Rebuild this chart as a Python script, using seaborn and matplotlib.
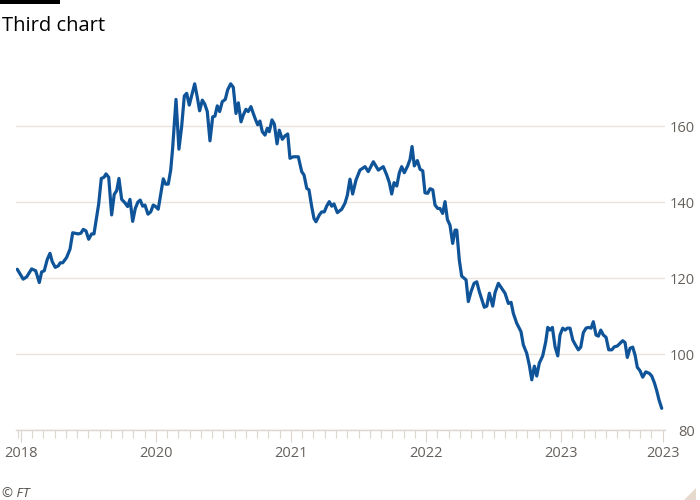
import matplotlib
matplotlib.use("Agg")
import matplotlib.pyplot as plt
import seaborn as sns
import pandas as pd
from matplotlib.patches import Rectangle, Polygon

# ---- data (x in months from the first labelled tick, y index value) ----
months = [-0.33, 0.20, 0.51, 0.95, 1.31, 1.63, 1.84, 2.07, 2.34, 2.58, 2.78, 3.05, 3.32, 3.49, 3.71,
          4.06, 4.36, 4.60, 5.09, 5.33, 5.54, 5.78, 6.02, 6.28, 6.49, 6.73, 6.91, 7.14, 7.38, 7.56,
          7.80, 8.06, 8.29, 8.51, 8.71, 8.95, 9.24, 9.48, 9.69, 9.93, 10.16, 10.40, 10.60, 10.82, 11.02,
          11.29, 11.53, 11.76, 11.97, 12.20, 12.42, 12.65, 12.86, 13.09, 13.31, 13.48, 13.78, 14.04, 14.28, 14.52,
          14.73, 14.96, 15.17, 15.44, 15.67, 15.88, 16.12, 16.33, 16.56, 16.80, 17.04, 17.24, 17.45, 17.66, 17.89,
          18.16, 18.37, 18.64, 18.87, 19.11, 19.32, 19.56, 19.76, 20.00, 20.20, 20.44, 20.65, 20.86, 21.04, 21.24,
          21.45, 21.69, 21.89, 22.07, 22.31, 22.52, 22.76, 22.96, 23.23, 23.47, 23.71, 23.91, 24.20, 24.65, 24.95,
          25.16, 25.40, 25.60, 25.84, 26.04, 26.22, 26.52, 26.73, 26.96, 27.17, 27.40, 27.62, 27.82, 28.12, 28.51,
          28.80, 29.01, 29.24, 29.48, 29.78, 30.13, 30.58, 30.87, 31.32, 31.76, 32.20, 32.51, 32.74, 32.95, 33.16,
          33.40, 33.63, 33.84, 34.07, 34.37, 34.58, 34.76, 34.96, 35.23, 35.47, 35.71, 35.91, 36.15, 36.36, 36.60,
          36.80, 37.04, 37.24, 37.48, 37.69, 37.90, 38.13, 38.37, 38.58, 38.73, 38.96, 39.17, 39.56, 39.76, 40.00,
          40.27, 40.51, 40.74, 40.98, 41.18, 41.40, 41.63, 41.93, 42.13, 42.43, 42.73, 43.02, 43.32, 43.56, 43.76,
          44.06, 44.44, 44.65, 44.95, 45.18, 45.40, 45.63, 45.84, 46.07, 46.37, 46.64, 46.82, 47.02, 47.23, 47.47,
          47.71, 47.91, 48.15, 48.36, 48.56, 48.80, 49.04, 49.24, 49.54, 49.75, 49.98, 50.22, 50.43, 50.67, 50.87,
          51.11, 51.32, 51.53, 51.76, 52.00, 52.24, 52.51, 52.74, 53.00, 53.24, 53.48, 53.69, 53.89, 54.13, 54.37,
          54.58, 54.78, 55.02, 55.26, 55.53, 55.85, 56.06, 56.30, 56.51, 56.71, 56.95]
values = [122.3, 119.7, 120.3, 122.4, 121.9, 118.8, 121.6, 121.9, 124.9, 126.5, 124.3, 122.8, 123.2, 124.0, 124.0,
          125.4, 127.6, 131.9, 131.6, 131.8, 132.8, 132.4, 130.2, 131.6, 131.6, 136.1, 139.5, 146.2, 146.5, 147.4,
          146.5, 136.6, 142.0, 143.0, 146.2, 140.7, 139.8, 138.8, 140.7, 134.9, 138.3, 140.0, 140.5, 138.9, 139.2,
          136.8, 137.4, 139.2, 138.8, 138.1, 142.1, 146.1, 144.7, 144.7, 148.4, 154.1, 167.0, 153.9, 159.8, 167.9,
          168.6, 165.5, 167.9, 171.1, 167.6, 164.0, 166.8, 165.8, 163.8, 156.1, 162.4, 162.6, 165.3, 163.8, 166.4,
          167.0, 169.5, 171.1, 170.2, 163.3, 166.1, 161.1, 162.9, 164.4, 163.8, 165.1, 163.3, 161.6, 160.3, 161.3,
          158.5, 157.6, 159.4, 158.5, 161.6, 160.5, 155.3, 158.9, 156.5, 157.4, 157.9, 151.5, 151.9, 151.9, 148.0,
          147.1, 143.6, 143.2, 138.8, 135.7, 134.8, 136.6, 137.4, 137.4, 138.9, 140.1, 138.9, 139.5, 137.2, 138.1,
          139.7, 141.8, 146.0, 142.1, 145.8, 148.4, 149.3, 148.0, 150.6, 148.4, 149.3, 147.1, 145.1, 142.1, 145.1,
          144.2, 147.7, 149.3, 147.7, 149.5, 151.2, 154.6, 149.5, 150.9, 148.6, 148.2, 142.4, 142.3, 143.5, 143.2,
          139.2, 138.3, 138.3, 137.0, 140.1, 135.4, 133.9, 129.1, 132.6, 132.6, 124.7, 120.5, 119.5, 113.8, 116.4,
          118.6, 119.0, 116.4, 114.2, 112.3, 112.6, 116.0, 112.6, 116.1, 118.6, 117.3, 116.0, 113.3, 113.6, 110.7,
          108.1, 105.9, 102.4, 100.2, 97.1, 93.2, 96.8, 94.2, 97.6, 99.5, 103.2, 107.0, 106.3, 107.0, 101.9,
          99.5, 105.0, 106.8, 106.3, 106.8, 106.8, 103.7, 102.6, 101.1, 101.8, 105.6, 106.8, 107.0, 106.8, 108.5,
          105.0, 104.7, 106.3, 105.0, 104.4, 101.1, 101.1, 101.9, 102.1, 102.8, 103.5, 103.0, 99.1, 101.5, 101.8,
          99.7, 96.5, 95.6, 93.9, 95.3, 94.9, 94.2, 92.4, 90.3, 87.9, 85.7]

x_tick_pos = [0, 12, 24, 36, 48, 57.07]
x_tick_labels = ["2018", "2020", "2021", "2022", "2023", "2023"]
y_ticks = [80, 100, 120, 140, 160]

# ---- style ----
sns.set_style("white")
plt.rcParams['font.family'] = ['Open Sans', 'DejaVu Sans']

LINE = "#0f5499"
GRID = "#ebe5df"
AXC = "#ddd6cf"
TXT = "#66605c"

fig = plt.figure(figsize=(7, 5), dpi=100)
ax = fig.add_axes([16 / 700, 1 - 430 / 500, (665 - 16) / 700, (430 - 57.6) / 500])

df = pd.DataFrame({"month": months, "value": values})
sns.lineplot(data=df, x="month", y="value", ax=ax, color=LINE, linewidth=2.3,
             estimator=None, sort=False)

ax.set_xlim(-0.44, 57.24)
ax.set_ylim(80, 178)
ax.set_xlabel("")
ax.set_ylabel("")

for s in ["top", "right", "left"]:
    ax.spines[s].set_visible(False)
ax.spines["bottom"].set_color(AXC)
ax.spines["bottom"].set_linewidth(1.0)
ax.spines["bottom"].set_zorder(3)

# y axis on the right
ax.yaxis.tick_right()
ax.set_yticks(y_ticks)
ax.set_yticklabels([str(v) for v in y_ticks])
ax.tick_params(axis="y", length=0, pad=21.6, labelsize=10.5, labelcolor=TXT)
plt.setp(ax.get_yticklabels(), ha="right")
ax.yaxis.grid(True, color=GRID, linewidth=1.0)
ax.xaxis.grid(False)

# x axis ticks
ax.set_xticks(x_tick_pos)
ax.set_xticklabels(x_tick_labels)
minor = [-0.24] + [m for m in range(1, 57) if m % 12 != 0]
ax.set_xticks(minor, minor=True)
ax.tick_params(axis="x", which="major", length=8.6, width=0.8, color=AXC,
               labelsize=10.5, labelcolor=TXT, pad=3, bottom=True)
ax.tick_params(axis="x", which="minor", length=5.8, width=0.8, color=AXC, bottom=True)

# decorations
fig.add_artist(Rectangle((0, 1 - 4 / 500), 60 / 700, 4 / 500, transform=fig.transFigure,
                         color="black", lw=0))
fig.text(2 / 700, 1 - 31 / 500, "Third chart", fontsize=14.5, color="#000000",
         ha="left", va="baseline")
fig.text(2 / 700, 1 - 497 / 500, "© FT", fontsize=9.5, style="italic", color="#4d4845",
         ha="left", va="baseline")
fig.add_artist(Polygon([(684 / 700, 0), (696 / 700, 12 / 500), (696 / 700, 0)],
                       closed=True, transform=fig.transFigure, color="#e6d9ce", lw=0))

fig.savefig("out.png", dpi=100, facecolor="white")
